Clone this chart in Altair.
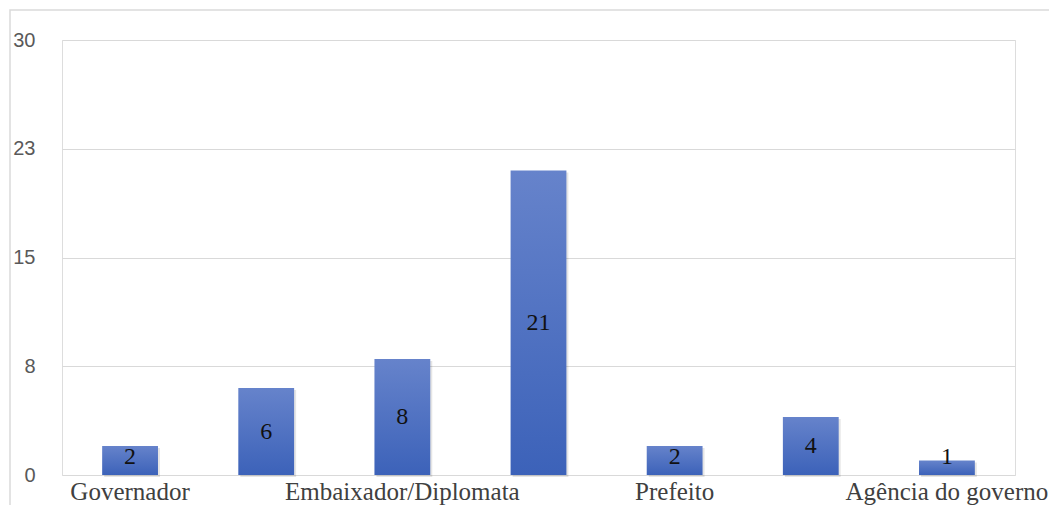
import altair as alt
import pandas as pd

categories = ["Governador", "Senador", "Embaixador/Diplomata", "Ministro",
              "Prefeito", "Vereador", "Agência do governo"]
values = [2, 6, 8, 21, 2, 4, 1]
shown_labels = ["Governador", "Embaixador/Diplomata", "Prefeito", "Agência do governo"]
y_ticks = [0, 7.5, 15, 22.5, 30]

df = pd.DataFrame({"cat": categories, "v": values})

shown_expr = "indexof([" + ",".join("'" + s + "'" for s in shown_labels) + "], datum.label) >= 0 ? datum.label : ''"

x_enc = alt.X("cat:N", sort=categories, title=None,
              scale=alt.Scale(paddingInner=0.59, paddingOuter=0.295),
              axis=alt.Axis(labelExpr=shown_expr, labelAngle=0, ticks=False, domain=False,
                            grid=False, labelFont="Liberation Serif", labelFontSize=25,
                            labelColor="#404040", labelPadding=4, labelOverlap=False,
                            labelLimit=0))
y_enc = alt.Y("v:Q", title=None,
              scale=alt.Scale(domain=[0, 30], nice=False),
              axis=alt.Axis(values=y_ticks, labelExpr="round(datum.value)", ticks=False,
                            domain=False, grid=True, gridColor="#D9D9D9", gridWidth=1.2,
                            labelFont="Liberation Sans", labelFontSize=20,
                            labelColor="#595959", labelPadding=27))

base = alt.Chart(df)

frame = base.mark_rect(fill=None, stroke="#DADADA", strokeWidth=1.5).encode(
    x=alt.value(-52), x2=alt.value(993), y=alt.value(-30), y2=alt.value(471)
).transform_filter("datum.cat == 'Governador'")

shadow = base.mark_bar(color="#000000", opacity=0.10, xOffset=2, yOffset=2).encode(
    x=x_enc, y=y_enc
)

grad = alt.LinearGradient(
    gradient="linear",
    stops=[alt.GradientStop(color="#6683CB", offset=0),
           alt.GradientStop(color="#3C62B9", offset=1)],
    x1=0, x2=0, y1=0, y2=1)

bars = base.mark_bar(color=grad).encode(x=x_enc, y=y_enc)

labels = base.transform_calculate(
    pos="max(datum.v / 2, 1.25)"
).mark_text(font="Liberation Serif", fontSize=24, color="#111111", baseline="middle").encode(
    x=alt.X("cat:N", sort=categories),
    y=alt.Y("pos:Q"),
    text=alt.Text("v:Q")
)

chart = alt.layer(frame, shadow, bars, labels).properties(
    width=953, height=435,
    autosize=alt.AutoSizeParams(type="none"),
    padding={"left": 54, "top": 32, "right": 34, "bottom": 30},
).configure_view(stroke=None).configure(background="white")

chart.save("out.html", embed_options={"renderer": "svg", "actions": False})
